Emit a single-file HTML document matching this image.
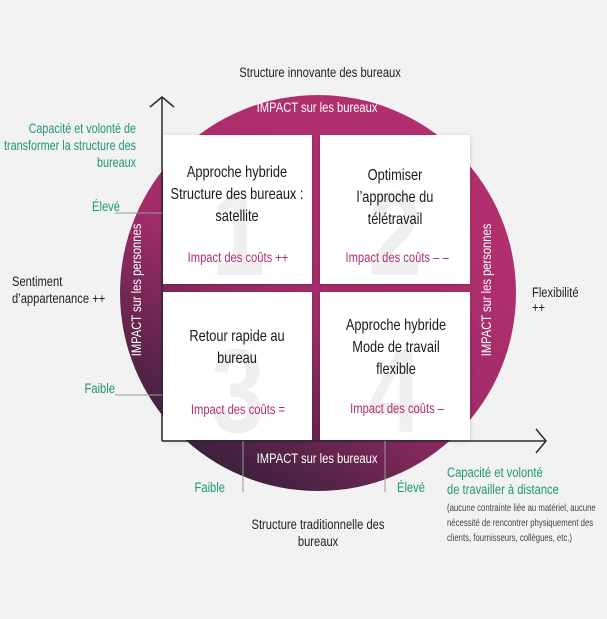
<!DOCTYPE html>
<html><head><meta charset="utf-8"><style>
html,body{margin:0;padding:0;background:#f2f2f2;}
svg{display:block;font-family:"Liberation Sans Narrow","Liberation Sans",sans-serif;}
.c text,text.c{transform-box:fill-box;transform-origin:center;transform:scaleX(0.8);}
.e text,text.e{transform-box:fill-box;transform-origin:right;transform:scaleX(0.8);}
.s text,text.s{transform-box:fill-box;transform-origin:left;transform:scaleX(0.8);}
.t text{transform-box:fill-box;transform-origin:left;transform:scaleX(0.74);}
</style></head><body>
<svg width="607" height="619" viewBox="0 0 607 619" xmlns="http://www.w3.org/2000/svg">
<defs>
<linearGradient id="g" x1="0.7" y1="0.2" x2="0.2" y2="1">
<stop offset="0" stop-color="#b22f6e"/>
<stop offset="0.45" stop-color="#a02c68"/>
<stop offset="1" stop-color="#2a1f33"/>
</linearGradient>
<filter id="sh" x="-10%" y="-10%" width="120%" height="120%"><feDropShadow dx="0" dy="1" stdDeviation="2" flood-opacity="0.2"/></filter>
</defs>
<rect width="607" height="619" fill="#f2f2f2"/>
<circle cx="318" cy="293" r="198" fill="url(#g)"/>
<g filter="url(#sh)" fill="#fff">
<rect x="163" y="135" width="149" height="149"/>
<rect x="320" y="135" width="150" height="149"/>
<rect x="163" y="292" width="149" height="148"/>
<rect x="320" y="292" width="150" height="148"/>
</g>
<g fill="#efefef" font-size="120" text-anchor="middle" font-weight="bold" class="c">
<text x="238" y="275">1</text><text x="395" y="275">2</text>
<text x="238" y="432">3</text><text x="395" y="432">4</text>
</g>
<g font-size="16" fill="#1a1a1a" text-anchor="middle" class="c">
<text x="237" y="177">Approche hybride</text>
<text x="237" y="199">Structure des bureaux :</text>
<text x="237" y="221">satellite</text>
<text x="395" y="180">Optimiser</text>
<text x="395" y="202">l’approche du</text>
<text x="395" y="224">télétravail</text>
<text x="237" y="341">Retour rapide au</text>
<text x="237" y="363">bureau</text>
<text x="396" y="330">Approche hybride</text>
<text x="396" y="352">Mode de travail</text>
<text x="396" y="374">flexible</text>
</g>
<g font-size="14" fill="#b22f6e" text-anchor="middle" class="c">
<text x="238" y="262">Impact des coûts ++</text>
<text x="397" y="262">Impact des coûts – –</text>
<text x="238" y="414">Impact des coûts =</text>
<text x="397" y="413">Impact des coûts –</text>
</g>
<g font-size="14" fill="#fff" text-anchor="middle">
<text x="317" y="112" class="c">IMPACT sur les bureaux</text>
<text x="317" y="463" class="c">IMPACT sur les bureaux</text>
<text transform="translate(141,290) rotate(-90) scale(0.8,1)">IMPACT sur les personnes</text>
<text transform="translate(491,290) rotate(-90) scale(0.8,1)">IMPACT sur les personnes</text>
</g>
<g stroke="#2a2a35" stroke-width="1.5" fill="none">
<line x1="162" y1="98" x2="162" y2="441"/>
<polyline points="150,107 162,97 174,107"/>
<line x1="162" y1="441" x2="546" y2="441"/>
<polyline points="536,429 546,441 536,453"/>
</g>
<g stroke="#999" stroke-width="1">
<line x1="115" y1="213" x2="162" y2="213"/>
<line x1="115" y1="395" x2="162" y2="395"/>
<line x1="243" y1="441" x2="243" y2="492"/>
<line x1="385" y1="441" x2="385" y2="492"/>
</g>
<g font-size="14" fill="#1e9a6a">
<g text-anchor="end" class="e">
<text x="136" y="133" font-size="13.5">Capacité et volonté de</text>
<text x="136" y="150" font-size="13.5">transformer la structure des</text>
<text x="136" y="167" font-size="13.5">bureaux</text>
<text x="120" y="211">Élevé</text>
<text x="115" y="393">Faible</text>
<text x="225" y="492">Faible</text>
</g>
<g class="s">
<text x="397" y="492">Élevé</text>
<text x="447" y="477">Capacité et volonté</text>
<text x="447" y="494">de travailler à distance</text>
</g>
</g>
<g font-size="10.5" fill="#444" class="t">
<text x="447" y="511">(aucune contrainte liée au matériel, aucune</text>
<text x="447" y="526">nécessité de rencontrer physiquement des</text>
<text x="447" y="541">clients, fournisseurs, collègues, etc.)</text>
</g>
<g font-size="14" fill="#222">
<g text-anchor="middle" class="c">
<text x="320" y="77">Structure innovante des bureaux</text>
<text x="318" y="529">Structure traditionnelle des</text>
<text x="318" y="546">bureaux</text>
</g>
<g class="s">
<text x="12" y="286">Sentiment</text>
<text x="12" y="303">d’appartenance ++</text>
<text x="532" y="297">Flexibilité</text>
<text x="532" y="312">++</text>
</g>
</g>
</svg>
</body></html>
